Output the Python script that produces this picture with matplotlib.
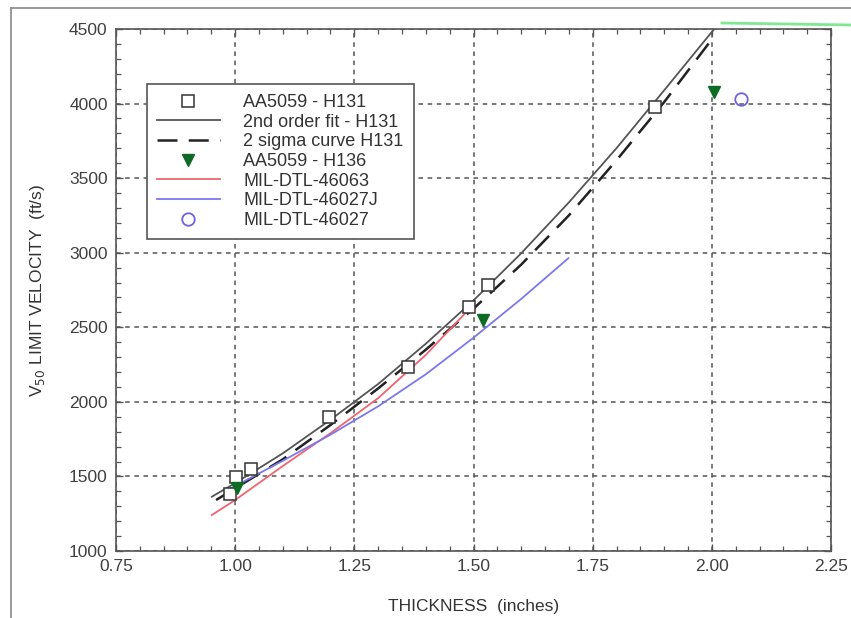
import matplotlib
matplotlib.use("Agg")
import matplotlib.pyplot as plt
from matplotlib.ticker import MultipleLocator
from matplotlib.lines import Line2D

plt.rcParams['font.family'] = ['Liberation Sans', 'DejaVu Sans']

# ---- data ----
h131_x = [0.989, 1.002, 1.033, 1.197, 1.362, 1.490, 1.530, 1.881]
h131_y = [1382, 1496, 1550, 1899, 2234, 2636, 2784, 3977]

fit_x = [0.951, 1.00, 1.10, 1.20, 1.30, 1.40, 1.50, 1.60, 1.70, 1.80, 1.90, 2.005]
fit_y = [1364, 1455, 1655, 1880, 2120, 2390, 2680, 2996, 3337, 3701, 4089, 4500]

sig_x = [0.960, 1.00, 1.10, 1.20, 1.30, 1.40, 1.50, 1.60, 1.70, 1.80, 1.90, 1.995]
sig_y = [1342, 1420, 1615, 1845, 2090, 2350, 2625, 2920, 3250, 3620, 4010, 4410]

h136_x = [1.004, 1.520, 2.004]
h136_y = [1422, 2549, 4078]

m46063_x = [0.951, 1.00, 1.10, 1.20, 1.30, 1.40, 1.499]
m46063_y = [1241, 1342, 1570, 1790, 2025, 2315, 2650]

m46027j_x = [0.985, 1.10, 1.20, 1.30, 1.40, 1.50, 1.60, 1.699]
m46027j_y = [1410, 1605, 1780, 1970, 2185, 2430, 2690, 2963]

m46027_x = [2.061]
m46027_y = [4031]

labels = ["AA5059 - H131", "2nd order fit - H131", "2 sigma curve H131",
          "AA5059 - H136", "MIL-DTL-46063", "MIL-DTL-46027J", "MIL-DTL-46027"]

W, H = 851, 618
fig = plt.figure(figsize=(W / 100, H / 100), dpi=100)
ax = fig.add_axes([116 / W, 1 - 551 / H, (831 - 116) / W, (551 - 29) / H])

ax.plot(fit_x, fit_y, color='#555555', lw=1.3, label=labels[1], zorder=3)
ax.plot(sig_x, sig_y, color='#222222', lw=1.8, dashes=(8, 4.5), label=labels[2], zorder=3)
ax.plot(m46063_x, m46063_y, color='#f06470', lw=1.3, label=labels[4], zorder=3)
ax.plot(m46027j_x, m46027j_y, color='#7b78ee', lw=1.3, label=labels[5], zorder=3)
ax.plot(h131_x, h131_y, ls='none', marker='s', ms=9, mfc='white', mec='#333333',
        mew=1.1, label=labels[0], zorder=4)
ax.plot(h136_x, h136_y, ls='none', marker='v', ms=9, color='#0d6b25', label=labels[3], zorder=5)
ax.plot(m46027_x, m46027_y, ls='none', marker='o', ms=9, mfc='none', mec='#6f62e0',
        mew=1.3, label=labels[6], zorder=5)

ax.set_xlim(0.75, 2.25)
ax.set_ylim(1000, 4500)
ax.xaxis.set_minor_locator(MultipleLocator(0.05))
ax.yaxis.set_major_locator(MultipleLocator(500))
ax.yaxis.set_minor_locator(MultipleLocator(100))
ax.set_xticks([0.75, 1.0, 1.25, 1.5, 1.75, 2.0, 2.25])
ax.set_xticklabels(['0.75', '1.00', '1.25', '1.50', '1.75', '2.00', '2.25'])
ax.tick_params(which='both', direction='in', top=True, right=True, color='#555555',
               labelcolor='#404040', labelsize=12.5)
ax.tick_params(which='major', length=5, width=1)
ax.tick_params(which='minor', length=3.5, width=0.9)
ax.tick_params(axis='x', pad=6)
ax.tick_params(axis='y', pad=6)
ax.grid(True, which='major', color='#555555', ls=(0, (3, 3)), lw=1.1)
for s in ax.spines.values():
    s.set_color('#555555')
    s.set_linewidth(1.2)

ax.set_xlabel('THICKNESS  (inches)', fontsize=12.5, color='#333333', labelpad=18)
ax.set_ylabel('V$_{50}$ LIMIT VELOCITY  (ft/s)', fontsize=12.5, color='#333333', labelpad=16)

handles, lbls = ax.get_legend_handles_labels()
order = [lbls.index(l) for l in labels]
leg = ax.legend([handles[i] for i in order], [lbls[i] for i in order],
                loc='upper left', bbox_to_anchor=(0.043, (551 - 84) / 522), borderaxespad=0,
                fancybox=False, edgecolor='#555555', fontsize=13, labelspacing=0.15,
                handlelength=3.5, handletextpad=1.3, borderpad=0.55, framealpha=1)
leg.get_frame().set_linewidth(1.2)
for t in leg.get_texts():
    t.set_color('#333333')

# figure border lines and green artifact
fig.add_artist(Line2D([11 / W, 11 / W], [0, 1 - 8 / H], transform=fig.transFigure,
                      color='#888888', lw=1.2))
fig.add_artist(Line2D([11 / W, 1], [1 - 8 / H, 1 - 8 / H], transform=fig.transFigure,
                      color='#888888', lw=1.2))
fig.add_artist(Line2D([722 / W, 1], [1 - 23 / H, 1 - 25 / H], transform=fig.transFigure,
                      color='#80e890', lw=2))

fig.savefig('out.png', dpi=100)
